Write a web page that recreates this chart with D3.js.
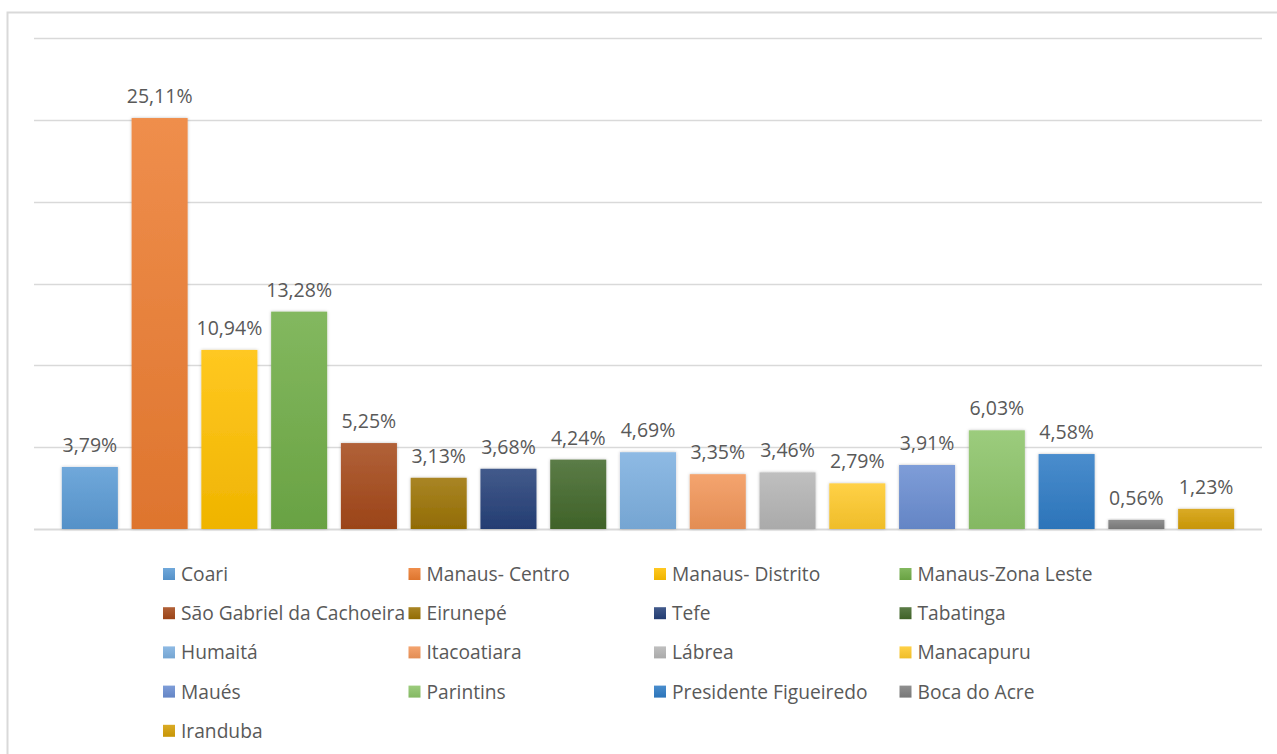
<!DOCTYPE html>
<html>
<head>
<meta charset="utf-8">
<script src="https://cdn.jsdelivr.net/npm/d3@7"></script>
<style>
  html, body { margin: 0; padding: 0; background: #fff; }
  svg { display: block; }
  text { font-family: "Open Sans", "Noto Sans", sans-serif; fill: #595959; }
</style>
</head>
<body>
<svg id="chart" width="1277" height="754"></svg>
<script>
const categories = ["Coari", "Manaus- Centro", "Manaus- Distrito", "Manaus-Zona Leste",
  "São Gabriel da Cachoeira", "Eirunepé", "Tefe", "Tabatinga", "Humaitá", "Itacoatiara",
  "Lábrea", "Manacapuru", "Maués", "Parintins", "Presidente Figueiredo", "Boca do Acre", "Iranduba"];
const values = [3.79, 25.11, 10.94, 13.28, 5.25, 3.13, 3.68, 4.24, 4.69, 3.35, 3.46, 2.79, 3.91, 6.03, 4.58, 0.56, 1.23];
const colors = ["#5B9BD5", "#ED7D31", "#FFC000", "#70AD47", "#A5491A", "#9C7304", "#26417A", "#43682B",
  "#7DB0E0", "#F2965A", "#B5B5B5", "#FFCA2C", "#6B8ED2", "#8DC46A", "#2F7CC5", "#7F7F7F", "#D49F06"];
const yTicks = [0, 5, 10, 15, 20, 25, 30];

const svg = d3.select("#chart");
const defs = svg.append("defs");

// frame
svg.append("path")
  .attr("d", "M7.5,760 L7.5,12.5 L1290,12.5")
  .attr("fill", "none").attr("stroke", "#d9d9d9").attr("stroke-width", 2);

const x = d3.scaleBand().domain(categories).range([55, 1241]).paddingInner(0.197).paddingOuter(0.098);
const y = d3.scaleLinear().domain([0, 30]).range([529, 38]);

// gridlines
svg.append("g").selectAll("line").data(yTicks).join("line")
  .attr("x1", 34).attr("x2", 1262)
  .attr("y1", d => Math.round(y(d)) + 0.5).attr("y2", d => Math.round(y(d)) + 0.5)
  .attr("stroke", "#d9d9d9").attr("stroke-width", d => d === 0 ? 2 : 1.5);

// gradients
colors.forEach((c, i) => {
  const g = defs.append("linearGradient").attr("id", "g" + i)
    .attr("x1", 0).attr("y1", 0).attr("x2", 0).attr("y2", 1);
  g.append("stop").attr("offset", "0%").attr("stop-color", d3.interpolateRgb(c, "#ffffff")(0.13));
  g.append("stop").attr("offset", "100%").attr("stop-color", d3.color(c).darker(0.18));
});

const shadow = defs.append("filter").attr("id", "sh").attr("x", "-20%").attr("y", "-20%").attr("width", "140%").attr("height", "140%");
shadow.append("feDropShadow").attr("dx", 0).attr("dy", 0).attr("stdDeviation", 1.5).attr("flood-color", "#000").attr("flood-opacity", 0.25);

svg.append("g").selectAll("rect").data(categories).join("rect")
  .attr("x", d => x(d))
  .attr("width", x.bandwidth())
  .attr("y", (d, i) => y(values[i]))
  .attr("height", (d, i) => y(0) - y(values[i]))
  .attr("fill", (d, i) => `url(#g${i})`)
  .attr("filter", "url(#sh)");

svg.append("g").selectAll("text").data(categories).join("text")
  .attr("x", d => x(d) + x.bandwidth() / 2)
  .attr("y", (d, i) => y(values[i]) - 15)
  .attr("text-anchor", "middle")
  .attr("font-size", 19.5)
  .text((d, i) => values[i].toFixed(2).replace(".", ",") + "%");

// legend
const leg = svg.append("g");
categories.forEach((c, i) => {
  const col = i % 4, row = Math.floor(i / 4);
  const lx = 163 + col * 245.5, ly = 574 + row * 39.2;
  leg.append("rect").attr("x", lx).attr("y", ly - 6).attr("width", 12).attr("height", 12)
    .attr("fill", `url(#g${i})`);
  leg.append("text").attr("x", lx + 18).attr("y", ly).attr("dy", "0.36em")
    .attr("font-size", 19.2).text(c);
});
</script>
</body>
</html>
